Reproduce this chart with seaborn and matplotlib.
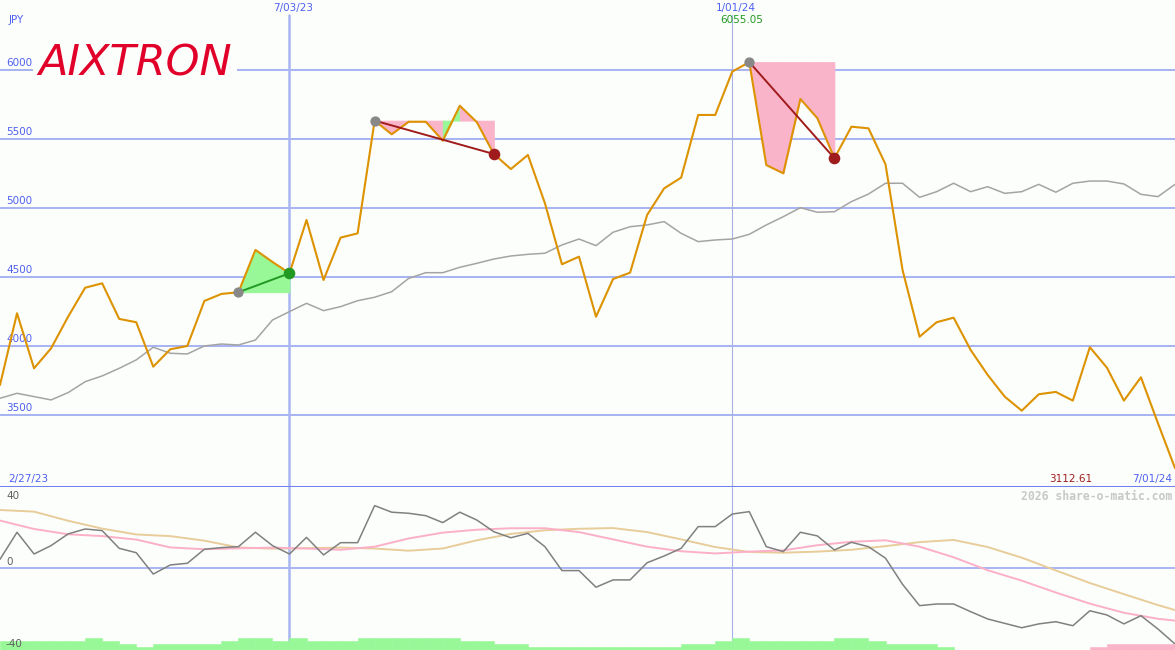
import numpy as np
import pandas as pd
import matplotlib
matplotlib.use("Agg")
import matplotlib.pyplot as plt
import seaborn as sns
from matplotlib import font_manager

# ---------------- data ----------------
dates = pd.date_range("2023-03-06", periods=70, freq="7D")

price = [3715, 4235, 3836, 3981, 4210, 4420, 4452, 4194, 4170, 3848,
         3974, 3998, 4324, 4375, 4387, 4694, 4607, 4525, 4911, 4476,
         4783, 4814, 5631, 5532, 5623, 5623, 5486, 5739, 5620, 5389,
         5280, 5382, 5032, 4590, 4645, 4210, 4483, 4529, 4947, 5140,
         5218, 5672, 5672, 5986, 6055.05, 5309, 5249, 5788, 5648, 5358,
         5587, 5575, 5314, 4549, 4065, 4170, 4203, 3969, 3788, 3631,
         3529, 3648, 3665, 3602, 3989, 3841, 3602, 3771, 3438, 3112.61]

moving_avg = [3619, 3655, 3631, 3607, 3660, 3739, 3781, 3836, 3897, 3989,
              3945, 3940, 3998, 4012, 4005, 4041, 4186, 4247, 4307, 4254,
              4283, 4326, 4351, 4391, 4488, 4529, 4529, 4568, 4597, 4628,
              4650, 4662, 4670, 4730, 4773, 4725, 4822, 4862, 4875, 4899,
              4814, 4754, 4766, 4773, 4807, 4875, 4935, 5000, 4967, 4971,
              5044, 5099, 5177, 5177, 5075, 5116, 5177, 5116, 5152, 5104,
              5116, 5169, 5112, 5177, 5193, 5193, 5172, 5097, 5080, 5169]

momentum = [4.6, 19.4, 7.5, 12.1, 18.5, 21.2, 20.3, 10.6, 8.2, -3.5,
            1.5, 2.4, 10.1, 11.0, 11.5, 19.4, 12.1, 7.5, 16.6, 7.0,
            13.7, 13.7, 34.0, 30.4, 29.8, 28.5, 24.7, 30.4, 26.1, 19.7,
            16.4, 18.8, 11.5, -1.6, -1.6, -10.7, -6.7, -6.7, 2.7, 6.4,
            10.6, 22.5, 22.5, 29.4, 30.7, 11.5, 8.8, 19.4, 17.4, 9.7,
            13.9, 11.5, 5.2, -9.1, -20.8, -19.9, -19.9, -24.1, -28.1, -30.5,
            -32.9, -30.8, -29.6, -31.8, -23.6, -25.9, -30.8, -26.3, -33.6, -41.8]

smooth_idx = [0, 2, 4, 6, 8, 10, 12, 14, 16, 18, 20, 22, 24, 26, 28, 30, 32, 34,
              36, 38, 40, 42, 44, 46, 48, 50, 52, 54, 56, 58, 60, 62, 64, 66, 68, 69]
signal_pink = [25.8, 21.2, 18.3, 17.3, 15.4, 11.1, 10.1, 10.6, 11.0, 10.5, 9.8, 11.5,
               16.0, 19.2, 20.8, 21.6, 21.6, 19.5, 15.5, 11.5, 9.0, 7.8, 8.8, 9.5,
               12.3, 14.2, 15.0, 11.5, 5.7, -1.4, -7.1, -13.6, -19.7, -24.7, -28.0, -29.0]
signal_tan = [31.6, 30.7, 25.7, 21.4, 18.2, 17.3, 14.8, 11.1, 10.4, 10.7, 11.0, 10.5,
              9.3, 10.5, 15.0, 18.5, 20.5, 21.3, 21.7, 19.5, 15.5, 11.3, 8.6, 8.2,
              8.8, 9.8, 11.8, 14.0, 15.2, 11.3, 5.5, -1.5, -8.4, -14.5, -20.5, -23.2]

hist = [5.1, 5.1, 5.1, 5.1, 5.1, 6.7, 5.1, 3.3, 1.8, 3.3,
        3.3, 3.3, 3.3, 5.1, 6.7, 6.7, 5.1, 6.7, 5.1, 5.1,
        5.1, 6.7, 6.7, 6.7, 6.7, 6.7, 6.7, 5.1, 5.1, 3.3,
        3.3, 1.8, 1.8, 1.8, 1.8, 1.8, 1.8, 1.8, 1.8, 1.8,
        3.3, 3.3, 5.1, 6.7, 5.1, 5.1, 5.1, 5.1, 5.1, 6.7,
        6.7, 5.1, 3.3, 3.3, 3.3, 1.8, 0, 0, 0, 0,
        0, 0, 0, 0, -1.8, -3.3, -3.3, -3.3, -3.3, 0]

price_ticks = [3500, 4000, 4500, 5000, 5500, 6000]
osc_ticks = [40, 0, -40]
osc_tick_offsets = [-6, 1, -8]
patterns = [(14, 17), (22, 29), (44, 49)]
marker_dates = ["2023-07-03", "2024-01-01"]
marker_labels = ["7/03/23", "1/01/24"]
start_label = "2/27/23"
end_label = "7/01/24"

# ---------------- style ----------------
sns.set_theme(style="white")
plt.rcParams["font.family"] = ["DejaVu Sans"]

W, H = 1175, 650
BG = "#fcfefc"
GRID = "#a9b5f2"
BLUE_TXT = "#4f60f0"
ORANGE = "#dd9200"
GREEN_FILL = "#98f898"
PINK_FILL = "#fab4c9"

fig = plt.figure(figsize=(W / 100, H / 100), dpi=100, facecolor=BG)
ax = fig.add_axes([0, 163 / H, 1, 487 / H], facecolor=BG)
ax2 = fig.add_axes([0, 0, 1, 163 / H], facecolor=BG)
for a in (ax, ax2):
    for s in a.spines.values():
        s.set_visible(False)
    a.set_xticks([])
    a.set_yticks([])
    a.set_xlabel("")
    a.set_ylabel("")
    a.set_xlim(dates[0], dates[-1])

ax.set_ylim(2976, 6505)
ax2.set_ylim(-45.1, 44.2)

# ---- main panel grid ----
for t in price_ticks:
    ax.axhline(t, color=GRID, lw=1.45, zorder=0.5)
    ax.annotate(str(t), xy=(0, t), xycoords=("axes fraction", "data"),
                xytext=(6, 1.5), textcoords="offset pixels", ha="left", va="bottom",
                fontsize=7.5, color=BLUE_TXT)
ax.axhline(2976 + 0.5, color="#7080ef", lw=2.2, zorder=6, clip_on=False)

vl_x = [pd.Timestamp(d) for d in marker_dates]
ax.axvline(vl_x[0], ymin=0, ymax=1 - 15 / 487, color=GRID, lw=1.8, zorder=0.6)
ax.axvline(vl_x[1], ymin=0, ymax=1 - 15 / 487, color="#a8b0e0", lw=0.8, zorder=0.6)
ax2.axvline(vl_x[0], color=GRID, lw=1.8, zorder=0.6)
ax2.axvline(vl_x[1], color="#a8b0e8", lw=0.8, zorder=0.6)

for xd, lab in zip(vl_x, marker_labels):
    ax.annotate(lab, xy=(xd, 1), xycoords=("data", "axes fraction"),
                xytext=(4, -3), textcoords="offset pixels", ha="center", va="top",
                fontsize=7.5, color=BLUE_TXT)

imax = int(np.argmax(price))
ax.annotate(f"{price[imax]:.2f}", xy=(dates[imax], 1), xycoords=("data", "axes fraction"),
            xytext=(-8, -15), textcoords="offset pixels", ha="center", va="top",
            fontsize=7.5, color="#229922")

# ---- pattern fills ----
for a_i, b_i in patterns:
    base = price[a_i]
    for i in range(a_i, b_i):
        col = GREEN_FILL if price[i + 1] > base else PINK_FILL
        ax.fill_between(dates[i:i + 2], price[i:i + 2], [base, base],
                        facecolor=col, edgecolor=col, lw=0.6, zorder=1)

# ---- lines ----
sns.lineplot(x=dates, y=moving_avg, ax=ax, color="#a4a4a4", lw=1.1, zorder=2, legend=False)
sns.lineplot(x=dates, y=price, ax=ax, color=ORANGE, lw=1.5, zorder=3, legend=False)

for a_i, b_i in patterns:
    up = price[b_i] > price[a_i]
    lc = "#229922" if up else "#a01c1c"
    ax.plot([dates[a_i], dates[b_i]], [price[a_i], price[b_i]], color=lc, lw=1.4, zorder=4)
    ax.scatter([dates[a_i]], [price[a_i]], s=55, color="#888888", zorder=5, lw=0)
    ax.scatter([dates[b_i]], [price[b_i]], s=70, color=lc, zorder=5, lw=0)

ax.set_xlabel("")
ax.set_ylabel("")

# ---- text in main panel ----
ax.text(0.007, 1 - 20 / 487, "JPY", transform=ax.transAxes, fontsize=7.5,
        color=BLUE_TXT, ha="left", va="center")
ax.text(8 / W, 8 / 487, start_label, transform=ax.transAxes, fontsize=7.5,
        color=BLUE_TXT, ha="left", va="center")
ax.text(1092 / W, 8 / 487, f"{price[-1]:.2f}", transform=ax.transAxes, fontsize=7.5,
        color="#a01c1c", ha="right", va="center")
ax.text(1172 / W, 8 / 487, end_label, transform=ax.transAxes, fontsize=7.5,
        color=BLUE_TXT, ha="right", va="center")

names = {f.name for f in font_manager.fontManager.ttflist}
logo_family = "Liberation Sans Narrow" if "Liberation Sans Narrow" in names else "DejaVu Sans"
logo_size = 38 if logo_family == "Liberation Sans Narrow" else 31
ax.text(135 / W, 1 - 64 / 487, "AIXTRON", transform=ax.transAxes, family=logo_family,
        fontsize=logo_size, style="italic", color="#e0002a", ha="center", va="center",
        zorder=7, bbox=dict(facecolor=BG, edgecolor="none", pad=4))

# ---- lower panel ----
ax2.axhline(0, color=GRID, lw=1.4, zorder=0.5)
sns.lineplot(x=dates[smooth_idx], y=signal_tan, ax=ax2, color="#e8cc9a", lw=1.4, zorder=2, legend=False)
sns.lineplot(x=dates[smooth_idx], y=signal_pink, ax=ax2, color="#fbb0c8", lw=1.4, zorder=2, legend=False)
sns.lineplot(x=dates, y=momentum, ax=ax2, color="#808080", lw=1.1, zorder=3, legend=False)

ymin = ax2.get_ylim()[0]
hv = np.array(hist)
bar_cols = [GREEN_FILL if v > 0 else PINK_FILL for v in hv]
ax2.bar(dates, np.abs(hv), bottom=ymin, width=7, align="edge", color=bar_cols,
        edgecolor=bar_cols, lw=0.4, zorder=4)
ax2.set_ylim(-45.1, 44.2)
ax2.set_xlim(dates[0], dates[-1])
ax2.set_xlabel("")
ax2.set_ylabel("")

for t, off in zip(osc_ticks, osc_tick_offsets):
    ax2.annotate(str(t), xy=(0, t), xycoords=("axes fraction", "data"),
                 xytext=(6, off), textcoords="offset pixels", ha="left", va="bottom",
                 fontsize=7.5, color="#606060", zorder=6)

ax2.text(1172 / W, 1 - 9 / 163, "2026 share-o-matic.com", transform=ax2.transAxes,
         family="DejaVu Sans Mono", fontsize=8.3, weight="bold", color="#c8c8c8",
         ha="right", va="center")

fig.savefig("out.png", dpi=100, facecolor=BG)
